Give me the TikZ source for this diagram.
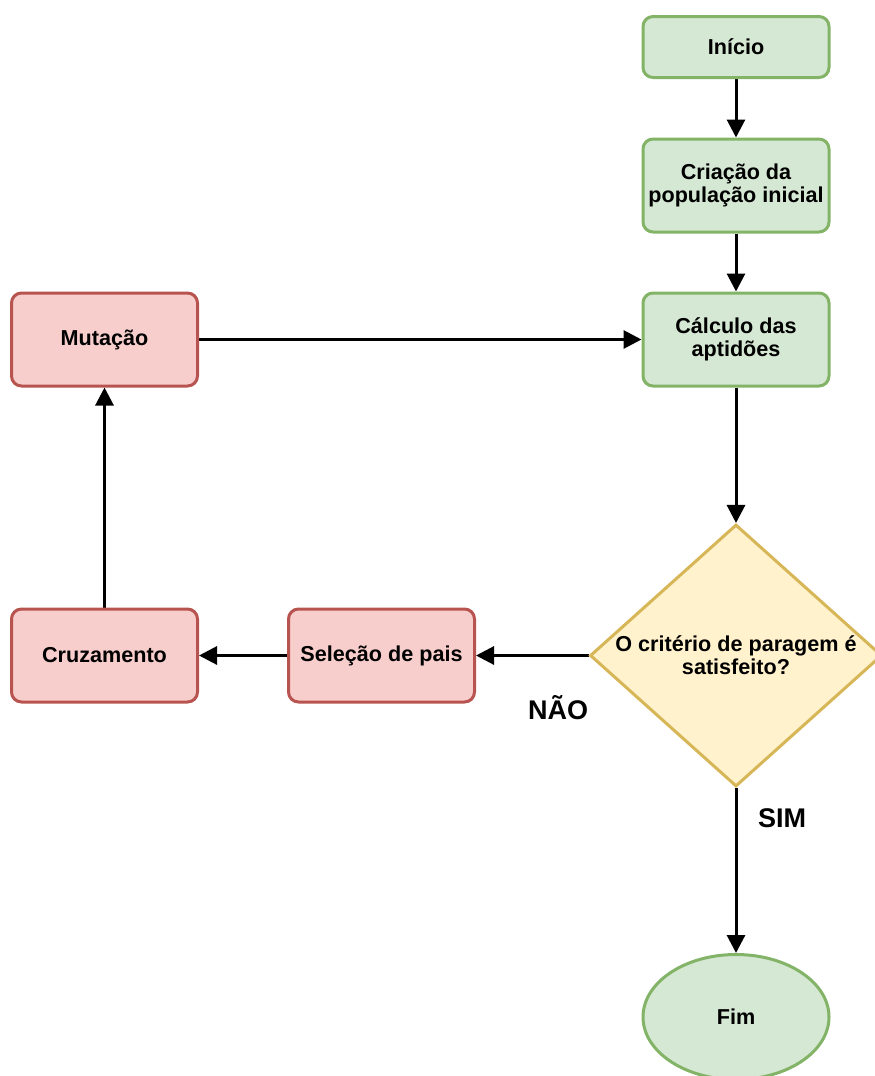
\documentclass[tikz,border=0pt]{standalone}
\usepackage{fontspec}
\setmainfont{Liberation Sans}
\usetikzlibrary{shapes.geometric,arrows.meta}
\definecolor{greenfill}{HTML}{D5E8D4}
\definecolor{greenline}{HTML}{82B366}
\definecolor{redfill}{HTML}{F8CECC}
\definecolor{redline}{HTML}{B85450}
\definecolor{yellowfill}{HTML}{FFF2CC}
\definecolor{yellowline}{HTML}{D6B656}
\pgfdeclarelayer{edgelayer}
\pgfdeclarelayer{nodelayer}
\pgfsetlayers{edgelayer,nodelayer,main}
\tikzstyle{none}=[inner sep=0pt]
\tikzstyle{green_step}=[rectangle,rounded corners=5pt,fill=greenfill,draw=greenline,line width=1.5pt,minimum width=93pt,minimum height=46.5pt,inner sep=2pt,align=center,font=\fontsize{10.8}{11.5}\selectfont\bfseries]
\tikzstyle{red_step}=[green_step,fill=redfill,draw=redline]
\tikzstyle{decision}=[diamond,aspect=1.11,fill=yellowfill,draw=yellowline,line width=1.5pt,inner sep=0pt,minimum width=146pt,minimum height=131pt,align=center,font=\fontsize{10.8}{11.5}\selectfont\bfseries]
\tikzstyle{terminal}=[ellipse,fill=greenfill,draw=greenline,line width=1.5pt,minimum width=93pt,minimum height=62.5pt,inner sep=0pt,font=\fontsize{10.8}{11.5}\selectfont\bfseries]
\tikzstyle{transition}=[-{Triangle[length=9pt,width=9pt]},draw=black,line width=1.5pt]
\tikzstyle{answer}=[inner sep=0pt,font=\fontsize{13.5}{15}\selectfont\bfseries]

\begin{document}
\begin{tikzpicture}[x=0.5pt,y=-0.5pt]
	\useasboundingbox (0,0) rectangle (874,1076);
	\begin{pgfonlayer}{nodelayer}
		\node [style={green_step},minimum height=30.5pt] (0) at (736, 47) {Início};
		\node [style={green_step}] (1) at (736, 185.5) {Criação da\\população inicial};
		\node [style={green_step}] (2) at (736, 339.5) {Cálculo das\\aptidões};
		\node [style=decision] (3) at (736, 655.5) {O critério de paragem é\\satisfeito?};
		\node [style={red_step}] (4) at (381.5, 655.5) {Seleção de pais};
		\node [style={red_step}] (5) at (104.5, 655.5) {Cruzamento};
		\node [style={red_step}] (6) at (104.5, 339.5) {Mutação};
		\node [style=terminal] (7) at (736, 1017) {Fim};
	\end{pgfonlayer}
	\begin{pgfonlayer}{edgelayer}
		\draw [style=transition] (0) to (1);
		\draw [style=transition] (1) to (2);
		\draw [style=transition] (2) to (3);
		\draw [style=transition] (3.west) to node[style=answer,pos=0.27,yshift=-26pt]{NÃO} (4.east);
		\draw [style=transition] (4) to (5);
		\draw [style=transition] (5) to (6);
		\draw [style=transition] (6) to (2);
		\draw [style=transition] (3.south) to node[style=answer,pos=0.18,xshift=23pt]{SIM} (7);
	\end{pgfonlayer}
\end{tikzpicture}
\end{document}
